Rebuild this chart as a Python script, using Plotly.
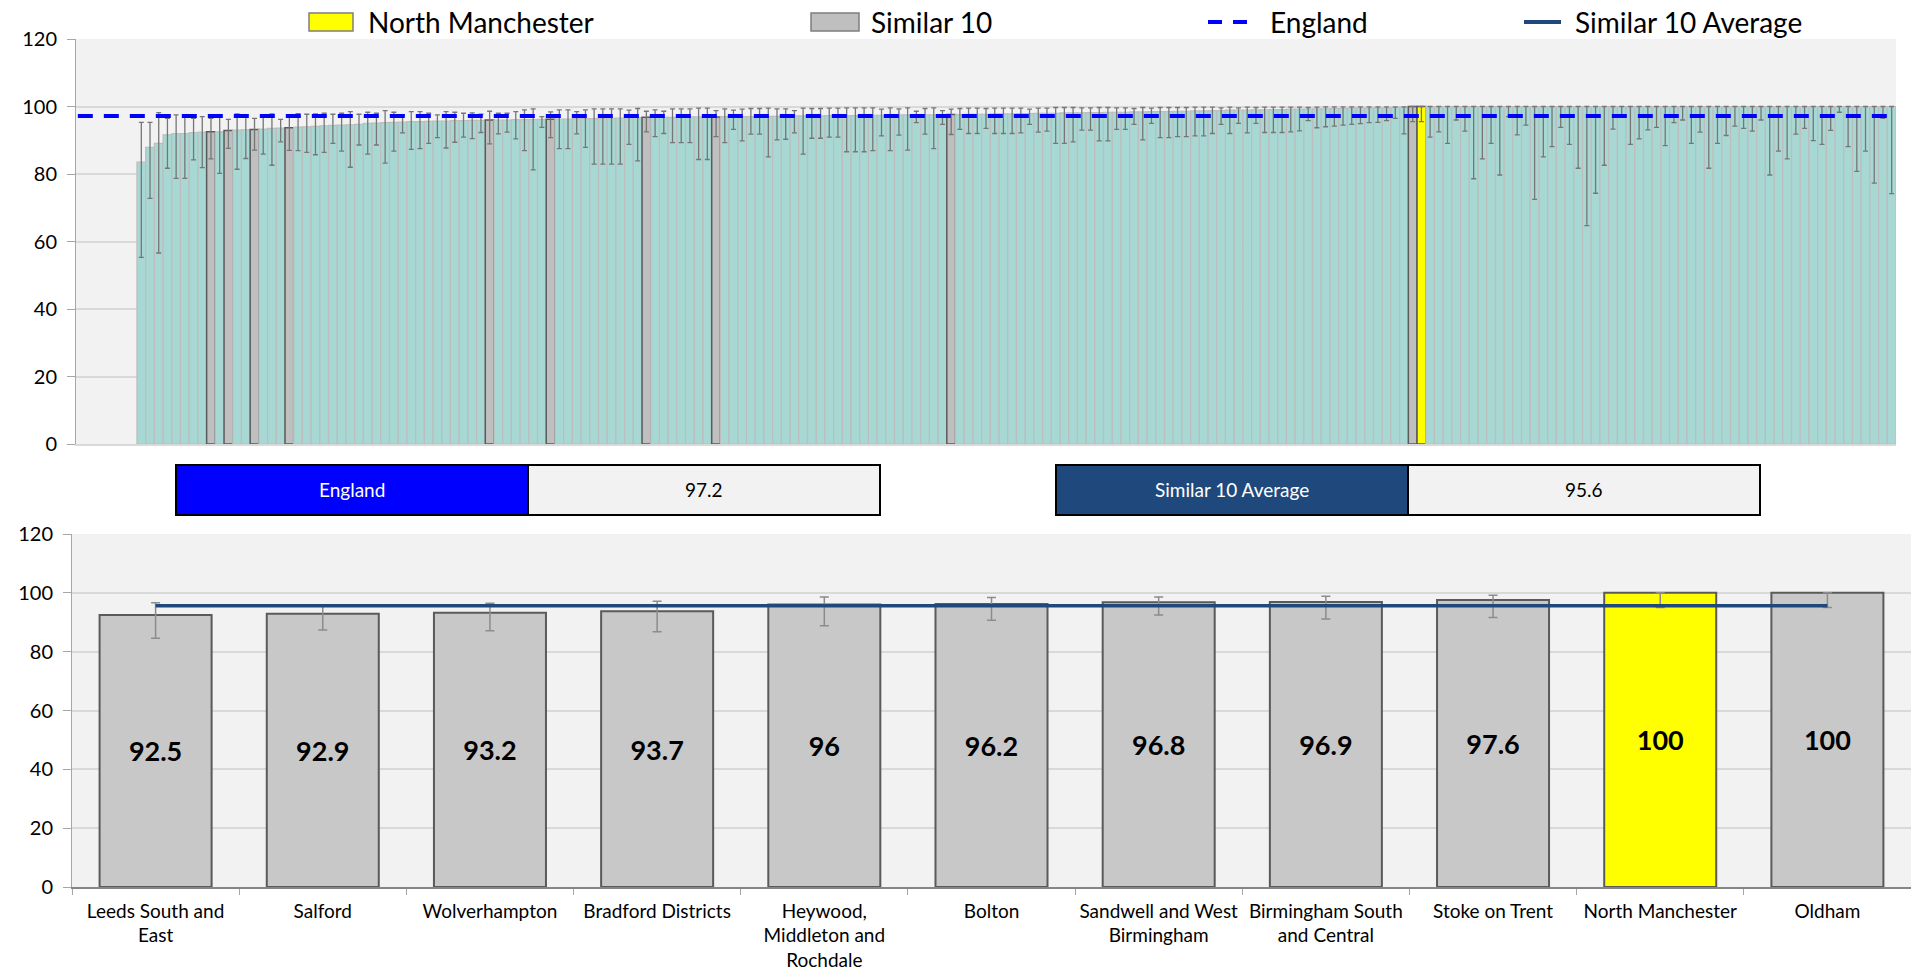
import plotly.graph_objects as go

# ---------------- data ----------------
england_value = 97.2
similar_avg_value = 95.6

# Top chart: all CCGs sorted ascending (value, lower CI, upper CI)
top_values = [
    83.5, 87.9, 89.1, 91.6, 92.0, 92.0, 92.3, 92.4, 92.5, 92.5,
    92.9, 93.0, 93.1, 93.2, 93.3, 93.5, 93.6, 93.7, 93.9, 94.0,
    94.1, 94.3, 94.4, 94.5, 94.6, 94.7, 95.0, 95.1, 95.2, 95.3,
    95.4, 95.5, 95.5, 95.6, 95.7, 95.7, 95.8, 95.8, 95.9, 95.9,
    96.0, 96.0, 96.0, 96.1, 96.1, 96.1, 96.2, 96.2, 96.3, 96.3,
    96.4, 96.4, 96.4, 96.5, 96.5, 96.6, 96.7, 96.7, 96.8, 96.8,
    96.8, 96.8, 96.9, 96.9, 96.9, 96.9, 96.9, 97.0, 97.0, 97.0,
    97.0, 97.1, 97.1, 97.1, 97.1, 97.2, 97.2, 97.2, 97.2, 97.3,
    97.3, 97.3, 97.3, 97.4, 97.4, 97.4, 97.4, 97.5, 97.5, 97.5,
    97.5, 97.5, 97.6, 97.6, 97.6, 97.7, 97.7, 97.7, 97.8, 97.8,
    97.8, 97.9, 97.9, 98.0, 98.0, 98.0, 98.1, 98.1, 98.1, 98.2,
    98.2, 98.3, 98.3, 98.3, 98.4, 98.4, 98.5, 98.5, 98.5, 98.6,
    98.6, 98.7, 98.7, 98.8, 98.8, 98.9, 98.9, 98.9, 99.0, 99.0,
    99.1, 99.1, 99.2, 99.2, 99.2, 99.3, 99.3, 99.4, 99.4, 99.5,
    99.5, 99.5, 99.6, 99.6, 99.7, 99.8,
] + [100.0] * 56

top_lower = [
    55.3, 72.8, 56.6, 81.7, 78.7, 78.7, 84.2, 81.9, 84.5, 80.2,
    87.6, 81.4, 84.6, 87.1, 85.9, 82.6, 89.5, 87.0, 86.9, 86.4,
    85.7, 86.4, 89.1, 86.8, 82.0, 88.6, 85.9, 88.6, 83.2, 86.8,
    92.2, 87.3, 87.5, 89.1, 90.8, 87.7, 89.4, 90.9, 90.5, 92.3,
    88.9, 91.9, 92.4, 90.4, 86.9, 81.2, 93.8, 90.8, 87.5, 87.5,
    91.9, 87.9, 82.9, 82.9, 82.9, 82.9, 88.8, 83.9, 92.5, 91.1,
    92.0, 89.3, 89.3, 89.3, 84.3, 84.3, 91.1, 89.3, 93.2, 89.8,
    91.8, 91.8, 85.1, 90.1, 90.3, 92.2, 85.9, 90.6, 90.6, 90.9,
    90.9, 86.6, 86.6, 86.6, 86.9, 91.3, 86.9, 91.5, 87.1, 95.2,
    91.8, 87.5, 94.7, 91.7, 93.2, 92.0, 92.0, 93.5, 92.0, 92.0,
    92.0, 92.2, 94.7, 92.4, 92.7, 89.1, 89.1, 89.5, 93.0, 93.0,
    89.8, 89.8, 93.2, 93.2, 94.7, 90.1, 95.0, 90.8, 90.8, 91.1,
    91.1, 91.3, 91.3, 92.0, 94.7, 92.0, 95.0, 92.2, 95.0, 92.3,
    92.3, 92.3, 92.5, 92.8, 95.8, 93.7, 94.0, 94.2, 94.5, 94.7,
    94.9, 95.2, 95.3, 95.8, 96.5, 91.9, 95.5, 95.5, 90.9, 92.5,
    89.1, 96.0, 92.7, 78.6, 84.5, 89.1, 79.7, 97.0, 91.6, 94.5,
    72.5, 85.1, 88.1, 93.8, 88.8, 81.7, 64.7, 74.3, 82.6, 93.3,
    97.5, 88.8, 90.4, 93.1, 93.8, 88.4, 95.2, 96.0, 89.1, 92.4,
    81.7, 89.1, 91.4, 94.2, 93.5, 92.7, 96.0, 79.7, 86.8, 84.5,
    91.8, 93.5, 89.9, 88.8, 92.9, 98.3, 88.1, 80.8, 86.8, 77.3,
    96.5, 74.2,
]

top_upper = [
    95.3, 95.3, 98.2, 96.5, 97.5, 97.5, 96.5, 97.0, 96.5, 97.0,
    96.2, 97.8, 97.5, 96.5, 97.0, 97.8, 96.2, 97.2, 97.9, 97.7,
    97.8, 98.0, 97.7, 98.0, 98.5, 97.7, 98.3, 98.0, 98.8, 98.3,
    97.5, 98.5, 98.5, 98.0, 97.5, 98.5, 98.3, 98.0, 98.1, 97.7,
    98.6, 98.0, 98.0, 98.5, 99.0, 99.3, 97.0, 98.4, 99.0, 99.0,
    98.5, 99.0, 99.3, 99.3, 99.3, 99.3, 98.9, 99.4, 98.6, 99.0,
    98.6, 99.3, 99.3, 99.3, 99.5, 99.5, 98.8, 99.3, 98.9, 99.2,
    99.4, 99.4, 99.5, 99.3, 99.3, 98.8, 99.5, 99.4, 99.4, 99.5,
    99.5, 99.6, 99.6, 99.6, 99.6, 99.2, 99.6, 99.3, 99.6, 98.6,
    99.4, 99.6, 98.8, 99.2, 99.4, 99.5, 99.5, 99.4, 99.5, 99.5,
    99.5, 99.5, 99.2, 99.5, 99.5, 99.7, 99.7, 99.7, 99.6, 99.6,
    99.7, 99.7, 99.6, 99.6, 99.4, 99.7, 99.5, 99.7, 99.7, 99.7,
    99.7, 99.8, 99.8, 99.8, 99.6, 99.8, 99.6, 99.8, 99.7, 99.8,
    99.8, 99.8, 99.8, 99.8, 99.7, 99.8, 99.9, 99.9, 99.9, 99.9,
    99.9, 99.9, 99.9, 99.9, 99.9, 99.9,
] + [100.0] * 56

# rank positions (in the sorted list above) of the similar 10 and the focus CCG
similar_ranks = [8, 10, 13, 17, 40, 47, 58, 66, 93, 146]
focus_rank = 147

# Bottom chart: focus CCG + similar 10
similar_names = [
    "Leeds South and<br>East", "Salford", "Wolverhampton", "Bradford Districts",
    "Heywood,<br>Middleton and<br>Rochdale", "Bolton", "Sandwell and West<br>Birmingham",
    "Birmingham South<br>and Central", "Stoke on Trent", "North Manchester", "Oldham",
]
similar_values = [92.5, 92.9, 93.2, 93.7, 96, 96.2, 96.8, 96.9, 97.6, 100, 100]
similar_lower = [84.6, 87.4, 87.1, 86.8, 88.8, 90.7, 92.5, 91.1, 91.6, 95.0, 95.0]
similar_upper = [96.6, 95.9, 96.5, 97.1, 98.6, 98.4, 98.6, 98.8, 99.2, 100, 100]
focus_name = "North Manchester"

legend_labels = ["North Manchester", "Similar 10", "England", "Similar 10 Average"]

# ---------------- styling ----------------
W, H = 1911, 971
FONT = "Lato"
TEAL = "#A8D8D3"
TEAL_EDGE = "#BDBDBD"
HI_GRAY = "#BFBFBF"
DARK_EDGE = "#5A5A5A"
YELLOW = "#FFFF00"
ENG_BLUE = "#0000FF"
NAVY = "#1F497D"
BG = "#F2F2F2"
GRID = "#D9D9D9"


def px(x):
    return x / W


def py(y):
    return 1 - y / H


n_top = len(top_values)
top_x = list(range(n_top))
fill_cols, edge_cols, edge_w = [], [], []
for i in range(n_top):
    if i == focus_rank:
        fill_cols.append(YELLOW); edge_cols.append(DARK_EDGE); edge_w.append(1.5)
    elif i in similar_ranks:
        fill_cols.append(HI_GRAY); edge_cols.append(DARK_EDGE); edge_w.append(1.5)
    else:
        fill_cols.append(TEAL); edge_cols.append(TEAL_EDGE); edge_w.append(1.2)

fig = go.Figure()

fig.add_trace(go.Bar(
    x=top_x, y=top_values, width=1.0,
    marker=dict(color=fill_cols, line=dict(color=edge_cols, width=edge_w)),
    error_y=dict(type="data", symmetric=False,
                 array=[u - v for u, v in zip(top_upper, top_values)],
                 arrayminus=[v - l for v, l in zip(top_values, top_lower)],
                 color="#767676", thickness=1.3, width=2.5),
    xaxis="x", yaxis="y", showlegend=False, hoverinfo="y",
))

bottom_cols = [YELLOW if n == focus_name else "#C8C8C8" for n in similar_names]
fig.add_trace(go.Bar(
    x=similar_names, y=similar_values, width=0.67,
    marker=dict(color=bottom_cols, line=dict(color=DARK_EDGE, width=2)),
    error_y=dict(type="data", symmetric=False,
                 array=[u - v for u, v in zip(similar_upper, similar_values)],
                 arrayminus=[v - l for v, l in zip(similar_values, similar_lower)],
                 color="#8C8C8C", thickness=1.5, width=4.5),
    text=[f"{v:g}" for v in similar_values], texttemplate="%{text}",
    textposition="inside", insidetextanchor="middle", textangle=0,
    textfont=dict(family=FONT, size=27, color="black", weight="bold"),
    constraintext="none",
    xaxis="x2", yaxis="y2", showlegend=False,
))

fig.add_trace(go.Scatter(
    x=similar_names, y=[similar_avg_value] * len(similar_names), mode="lines",
    line=dict(color=NAVY, width=3.5), xaxis="x2", yaxis="y2", showlegend=False,
))

shapes = []
annotations = []

# England reference line (top chart)
shapes.append(dict(type="line", xref="x domain", yref="y", x0=0.001, x1=1,
                   y0=england_value, y1=england_value,
                   line=dict(color=ENG_BLUE, width=4, dash="15px,11px"), layer="above"))

# Legend (manual)
shapes.append(dict(type="rect", xref="paper", yref="paper", x0=px(309), x1=px(353), y0=py(31), y1=py(13),
                   fillcolor=YELLOW, line=dict(color="#7F7F7F", width=1.5)))
shapes.append(dict(type="rect", xref="paper", yref="paper", x0=px(811), x1=px(859), y0=py(31), y1=py(13),
                   fillcolor=HI_GRAY, line=dict(color="#7F7F7F", width=1.5)))
shapes.append(dict(type="line", xref="paper", yref="paper", x0=px(1208), x1=px(1254), y0=py(22), y1=py(22),
                   line=dict(color=ENG_BLUE, width=4, dash="14px,11px")))
shapes.append(dict(type="line", xref="paper", yref="paper", x0=px(1524), x1=px(1561), y0=py(22), y1=py(22),
                   line=dict(color=NAVY, width=4)))
for label, x0 in zip(legend_labels, [366, 869, 1268, 1573]):
    annotations.append(dict(text=label, xref="paper", yref="paper", x=px(x0), y=py(22),
                            xanchor="left", yanchor="middle", showarrow=False,
                            font=dict(family=FONT, size=28, color="black")))

# Summary boxes
def summary_box(x_left, x_mid, x_right, label, value, color):
    shapes.append(dict(type="rect", xref="paper", yref="paper", x0=px(x_left), x1=px(x_mid),
                       y0=py(515), y1=py(465), fillcolor=color, line=dict(color="black", width=2)))
    shapes.append(dict(type="rect", xref="paper", yref="paper", x0=px(x_mid), x1=px(x_right),
                       y0=py(515), y1=py(465), fillcolor=BG, line=dict(color="black", width=2)))
    annotations.append(dict(text=label, xref="paper", yref="paper", x=px((x_left + x_mid) / 2), y=py(490),
                            xanchor="center", yanchor="middle", showarrow=False,
                            font=dict(family=FONT, size=19, color="white")))
    annotations.append(dict(text=f"{value:g}", xref="paper", yref="paper", x=px((x_mid + x_right) / 2), y=py(490),
                            xanchor="center", yanchor="middle", showarrow=False,
                            font=dict(family=FONT, size=19, color="black")))

summary_box(176, 528, 880, "England", england_value, ENG_BLUE)
summary_box(1056, 1408, 1760, "Similar 10 Average", similar_avg_value, NAVY)

axis_font = dict(family=FONT, size=20, color="black")

fig.update_layout(
    width=W, height=H,
    margin=dict(l=0, r=0, t=0, b=0, autoexpand=False),
    paper_bgcolor="white", plot_bgcolor=BG,
    showlegend=False,
    shapes=shapes, annotations=annotations,
    xaxis=dict(domain=[px(76), px(1896)], range=[-7.5, n_top - 0.5], showticklabels=False,
               showgrid=False, zeroline=False, showline=True, linecolor=GRID, linewidth=1.5,
               automargin=False, fixedrange=True),
    yaxis=dict(domain=[py(444), py(39)], range=[0, 120], dtick=20, showgrid=True, gridcolor=GRID,
               gridwidth=1.5, zeroline=False, ticks="outside", ticklen=8, tickcolor="#A6A6A6",
               showline=True, linecolor="#A6A6A6", ticklabelstandoff=6, tickfont=axis_font,
               anchor="x", automargin=False),
    xaxis2=dict(domain=[px(72), 1.0], type="category", tickson="boundaries", ticks="outside",
                ticklen=6, tickcolor="#A6A6A6", showline=True, linecolor="#868686", linewidth=1.5,
                showgrid=False, tickfont=dict(family=FONT, size=19, color="black"), anchor="y2",
                tickangle=0, ticklabelstandoff=6, automargin=False),
    yaxis2=dict(domain=[py(887), py(534)], range=[0, 120], dtick=20, showgrid=True, gridcolor=GRID,
                gridwidth=1.5, zeroline=False, ticks="outside", ticklen=8, tickcolor="#A6A6A6",
                showline=True, linecolor="#A6A6A6", ticklabelstandoff=6, tickfont=axis_font,
                anchor="x2", automargin=False),
    font=dict(family=FONT),
)

fig.write_html("out.html", config={"displayModeBar": False},
               post_script="document.body.style.margin='0';document.body.style.overflow='hidden';")
